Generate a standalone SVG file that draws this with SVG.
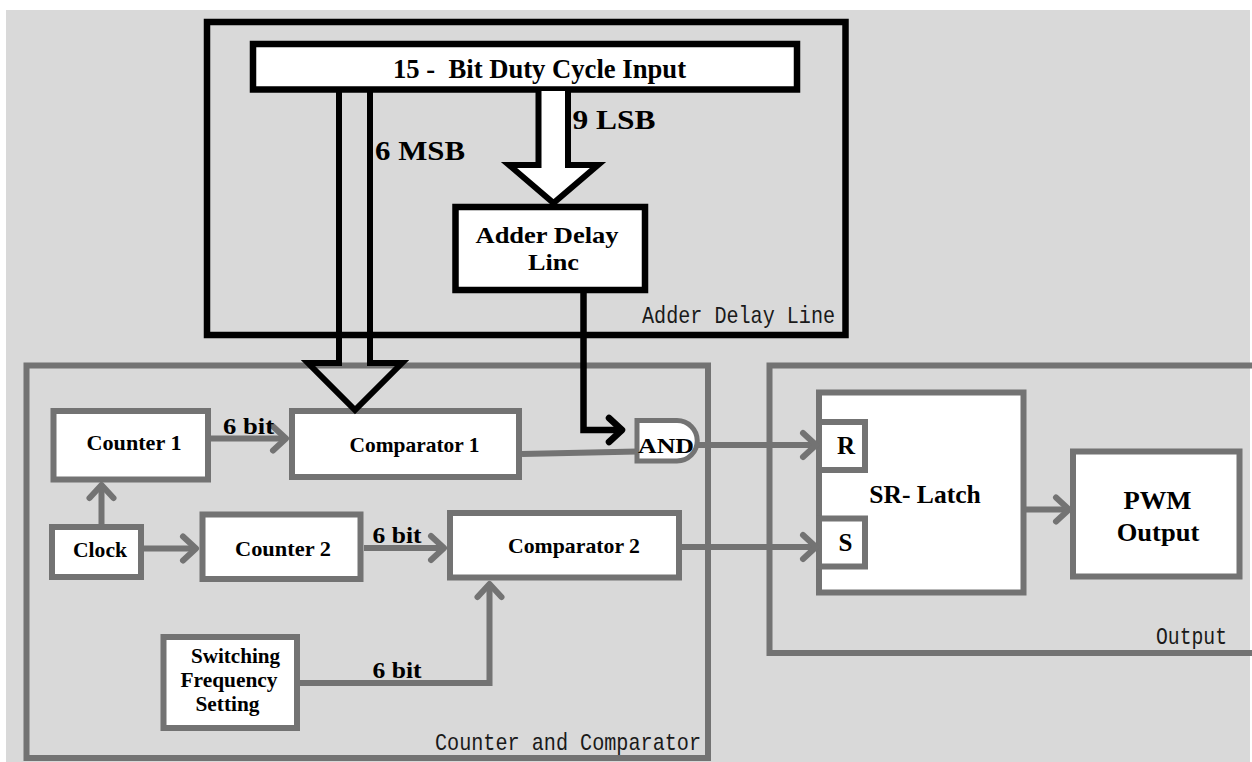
<svg xmlns="http://www.w3.org/2000/svg" width="1252" height="762" viewBox="0 0 1252 762">
<style>
.bk{fill:#ffffff;stroke:#000;stroke-width:6.5}
.gb{fill:#ffffff;stroke:#737373;stroke-width:6}
.grp{fill:none;stroke:#737373;stroke-width:6}
.grpk{fill:none;stroke:#000;stroke-width:6.5}
.t{font-family:"Liberation Serif","Times New Roman",serif;font-weight:bold;fill:#000;text-anchor:middle}
.m{font-family:"Liberation Mono","Courier New",monospace;fill:#1a1a1a;text-anchor:start}
.cg{fill:none;stroke:#737373;stroke-width:6}
.ck{fill:none;stroke:#000;stroke-width:6.5}
</style>
<defs>
<marker id="ag" markerUnits="userSpaceOnUse" markerWidth="30" markerHeight="30" viewBox="-18 -15 24 30" refX="0" refY="0" orient="auto" overflow="visible">
<path d="M-13,-12 L0,0 L-13,12" fill="none" stroke="#737373" stroke-width="6" stroke-linecap="round" stroke-linejoin="round"/>
</marker>
<marker id="ak" markerUnits="userSpaceOnUse" markerWidth="30" markerHeight="30" viewBox="-18 -15 24 30" refX="0" refY="0" orient="auto" overflow="visible">
<path d="M-13,-12 L0,0 L-13,12" fill="none" stroke="#000" stroke-width="6.5" stroke-linecap="round" stroke-linejoin="round"/>
</marker>
</defs>
<rect x="0" y="0" width="1252" height="762" fill="#ffffff"/>
<rect x="6" y="10" width="1244" height="752" fill="#d9d9d9"/>

<g id="group-adder">
<rect x="207" y="22" width="638.5" height="313" class="grpk"/>
<text class="m" x="642" y="323" font-size="24" textLength="193" lengthAdjust="spacingAndGlyphs">Adder Delay Line</text>
</g>
<g id="group-counter">
<rect x="26.5" y="365.5" width="681.5" height="392.5" class="grp"/>
<text class="m" x="435" y="750" font-size="24" textLength="266" lengthAdjust="spacingAndGlyphs">Counter and Comparator</text>
</g>
<g id="group-output">
<path d="M1252,365.5 H769.5 V653 H1252" class="grp"/>
<text class="m" x="1156" y="644" font-size="24" textLength="71" lengthAdjust="spacingAndGlyphs">Output</text>
</g>

<g id="duty-input">
<rect x="253" y="44" width="544" height="45.5" class="bk"/>
<text class="t" x="539.5" y="77.5" font-size="27" textLength="293" lengthAdjust="spacingAndGlyphs" style="white-space:pre">15 -  Bit Duty Cycle Input</text>
</g>
<g id="adder-delay-line">
<rect x="455.5" y="207" width="189.5" height="83" class="bk"/>
<text class="t" x="547" y="243" font-size="24" textLength="143" lengthAdjust="spacingAndGlyphs">Adder Delay</text>
<text class="t" x="553.5" y="270" font-size="24" textLength="51" lengthAdjust="spacingAndGlyphs">Linc</text>
</g>
<g id="counter1">
<rect x="53.5" y="411" width="154.5" height="68.5" class="gb"/>
<text class="t" x="134" y="450" font-size="21" textLength="95" lengthAdjust="spacingAndGlyphs">Counter 1</text>
</g>
<g id="comparator1">
<rect x="292" y="411" width="227" height="66" class="gb"/>
<text class="t" x="414.5" y="452" font-size="21" textLength="130" lengthAdjust="spacingAndGlyphs">Comparator 1</text>
</g>
<g id="and-gate">
<path d="M637,420.5 H677 A20.25,20.25 0 0 1 677,461 H637 Z" fill="#ffffff" stroke="#737373" stroke-width="5"/>
<text class="t" x="666" y="452.5" font-size="22" textLength="56" lengthAdjust="spacingAndGlyphs">AND</text>
</g>
<g id="clock">
<rect x="52" y="527" width="89" height="50" class="gb"/>
<text class="t" x="100" y="556.5" font-size="21" textLength="54" lengthAdjust="spacingAndGlyphs">Clock</text>
</g>
<g id="counter2">
<rect x="202.5" y="514.5" width="158" height="64.5" class="gb"/>
<text class="t" x="283" y="555.5" font-size="21" textLength="96" lengthAdjust="spacingAndGlyphs">Counter 2</text>
</g>
<g id="comparator2">
<rect x="450" y="513" width="229" height="64.5" class="gb"/>
<text class="t" x="574" y="552.5" font-size="21" textLength="132" lengthAdjust="spacingAndGlyphs">Comparator 2</text>
</g>
<g id="switching-frequency">
<rect x="163.5" y="637" width="133.5" height="91" class="gb"/>
<text class="t" x="235.5" y="663" font-size="20" textLength="89" lengthAdjust="spacingAndGlyphs">Switching</text>
<text class="t" x="229" y="686.5" font-size="20" textLength="97" lengthAdjust="spacingAndGlyphs">Frequency</text>
<text class="t" x="227.5" y="710.5" font-size="20" textLength="64" lengthAdjust="spacingAndGlyphs">Setting</text>
</g>
<g id="sr-latch">
<rect x="819" y="392.5" width="204.5" height="200" class="gb"/>
<rect x="819" y="422" width="46" height="48" class="gb"/>
<rect x="819" y="518.5" width="46" height="48" class="gb"/>
<text class="t" x="846" y="454" font-size="25">R</text>
<text class="t" x="845.5" y="550.5" font-size="25">S</text>
<text class="t" x="925" y="502.5" font-size="25" textLength="111.5" lengthAdjust="spacingAndGlyphs" style="white-space:pre">SR- Latch</text>
</g>
<g id="pwm-output">
<rect x="1073" y="451.5" width="166.5" height="125" class="gb"/>
<text class="t" x="1157.5" y="508.5" font-size="25" textLength="68" lengthAdjust="spacingAndGlyphs">PWM</text>
<text class="t" x="1158" y="540.5" font-size="25" textLength="82.6" lengthAdjust="spacingAndGlyphs">Output</text>
</g>

<g id="connectors">
<path d="M339,92 V363 H308 L355,410 L402,363 H370 V92" fill="none" stroke="#000" stroke-width="6"/>
<path d="M538.5,91 V165 H509 L553.5,203 L598,165 H568 V91" fill="#ffffff" stroke="#000" stroke-width="6"/>
<path d="M583.5,293 V430 H622" class="ck" marker-end="url(#ak)"/>
<path d="M522,454 L637,451.5" class="cg"/>
<path d="M697,445 H816" class="cg" marker-end="url(#ag)"/>
<path d="M211,438.5 H286" class="cg" marker-end="url(#ag)"/>
<path d="M101.5,524 V485" class="cg" marker-end="url(#ag)"/>
<path d="M144,548.5 H196" class="cg" marker-end="url(#ag)"/>
<path d="M364,548 H444" class="cg" marker-end="url(#ag)"/>
<path d="M682,547 H816" class="cg" marker-end="url(#ag)"/>
<path d="M300,683 H489.5 V584" class="cg" marker-end="url(#ag)"/>
<path d="M1026,509.5 H1069" class="cg" marker-end="url(#ag)"/>
<text class="t" x="420" y="160" font-size="27" textLength="90" lengthAdjust="spacingAndGlyphs">6 MSB</text>
<text class="t" x="614" y="129" font-size="27" textLength="83" lengthAdjust="spacingAndGlyphs">9 LSB</text>
<text class="t" x="248.5" y="434" font-size="24" textLength="51" lengthAdjust="spacingAndGlyphs">6 bit</text>
<text class="t" x="397" y="543" font-size="24" textLength="49" lengthAdjust="spacingAndGlyphs">6 bit</text>
<text class="t" x="397" y="678" font-size="24" textLength="49" lengthAdjust="spacingAndGlyphs">6 bit</text>
</g>
</svg>
